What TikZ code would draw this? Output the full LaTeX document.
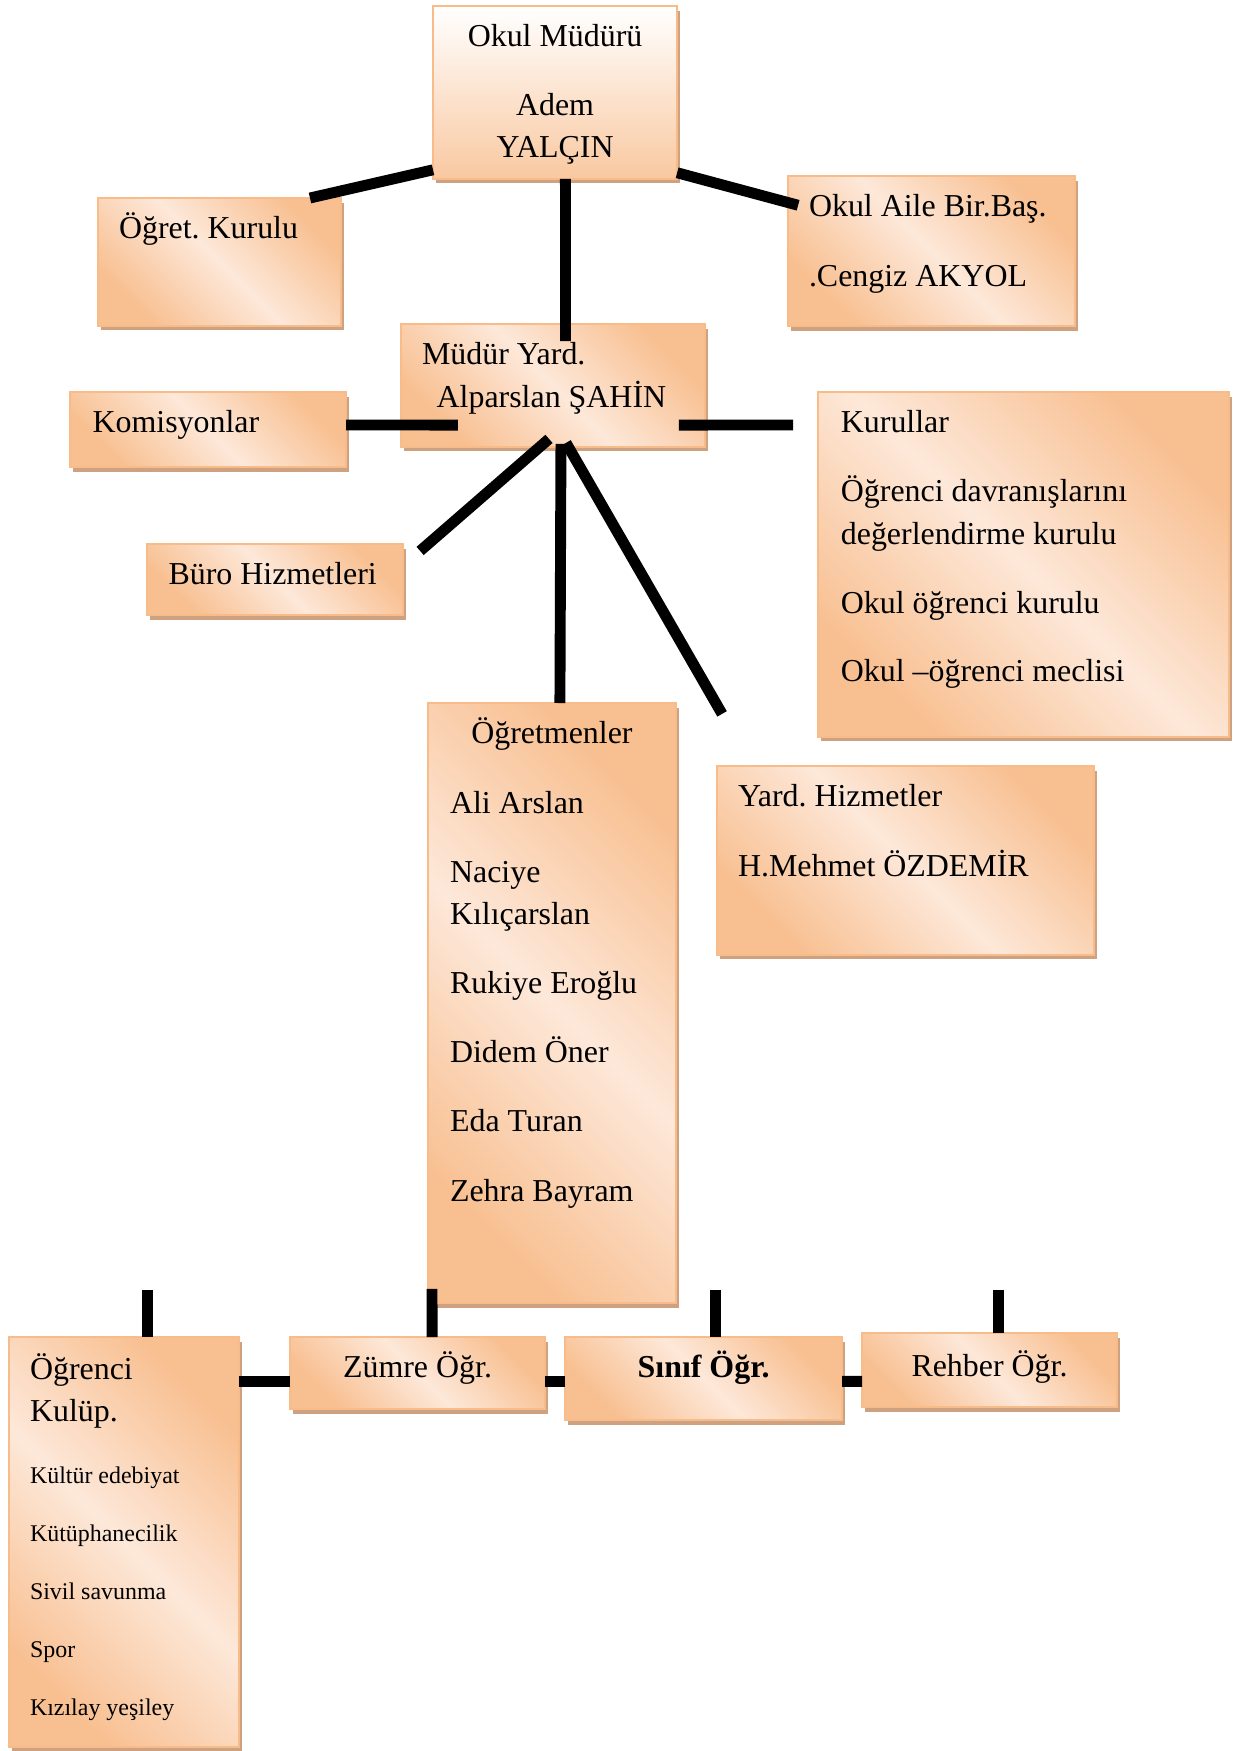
\documentclass[tikz,border=0pt]{standalone}
\usepackage{fontspec}
\setmainfont{Liberation Serif}
\usetikzlibrary{shadows}

\definecolor{peachdark}{HTML}{F8BF90}
\definecolor{peachlight}{HTML}{FDE8D9}
\definecolor{peachedge}{HTML}{F7BC89}
\definecolor{boxshadow}{HTML}{CEA280}
\pgfdeclarehorizontalshading{peachy}{100bp}{color(0bp)=(peachdark); color(25bp)=(peachdark); color(50bp)=(peachlight); color(75bp)=(peachdark); color(100bp)=(peachdark)}

\begin{document}
\begin{tikzpicture}[
            x=0.376pt, y=-0.376pt,
            box/.style={
                draw=peachedge,
                line width=0.8pt,
                shade,
                shading=peachy,
                shading angle=45,
                drop shadow={shadow xshift=1pt, shadow yshift=-1.7pt, fill=boxshadow, opacity=1},
                anchor=north west,
                align=flush left,
                inner ysep=0pt,
                outer sep=0pt,
                text height=15.4pt,
                font=\fontsize{12}{15.9}\selectfont\frenchspacing
            },
            link/.style={line width=4.1pt}
        ]
        \useasboundingbox (0,0) rectangle (1245,1751);

        \node[box, text width=84.2pt, inner xsep=3.8pt, text depth=49.6pt, align=flush center, top color=white, bottom color=peachdark!85!white, shading angle=0] (mudur) at (433,6) {Okul Müdürü\\[9.7pt]Adem\\YALÇIN};
        \node[box, text width=75.6pt, inner xsep=7.9pt, text depth=32.7pt] (ogret) at (98,198) {Öğret. Kurulu};
        \node[box, text width=92.1pt, inner xsep=7.9pt, text depth=41pt] (aile) at (788,176) {Okul Aile Bir.Baş.\\[10.1pt].Cengiz AKYOL};

        \node[box, text width=98.5pt, inner xsep=7.9pt, text depth=30.8pt] (yard) at (401,324) {Müdür Yard.\\\hspace*{5.5pt}Alparslan ŞAHİN};
        \node[box, text width=86.8pt, inner xsep=8.5pt, text depth=12.8pt] (komisyon) at (70,392) {Komisyonlar};
        \node[box, text width=137.3pt, inner xsep=8.6pt, text depth=114.3pt] (kurullar) at (818,392) {Kurullar\\[10pt]Öğrenci davranışlarını\\değerlendirme kurulu\\[10pt]Okul öğrenci kurulu\\[10pt]Okul –öğrenci meclisi};
        \node[box, text width=80.1pt, inner xsep=8.1pt, text depth=11.3pt] (buro) at (147,544) {Büro Hizmetleri};

        \node[box, text width=76.6pt, inner xsep=8.3pt, text depth=210.2pt] (ogretmen) at (428,703) {\makebox[\linewidth]{Öğretmenler}\\[10.1pt]Ali Arslan\\[10.1pt]Naciye\\Kılıçarslan\\[10.1pt]Rukiye Eroğlu\\[10.1pt]Didem Öner\\[10.1pt]Eda Turan\\[10.1pt]Zehra Bayram};
        \node[box, text width=126pt, inner xsep=7.9pt, text depth=55.6pt] (hizmet) at (717,766) {Yard. Hizmetler\\[10.2pt]H.Mehmet ÖZDEMİR};

        \node[box, text width=70.7pt, inner xsep=7.9pt, text height=15.8pt, text depth=138.4pt] (kulup) at (9,1337) {Öğrenci\\Kulüp.\\[1.5pt]\fontsize{9}{21.8}\selectfont Kültür edebiyat\\Kütüphanecilik\\Sivil savunma\\Spor\\Kızılay yeşiley\par};
        \node[box, text width=85.9pt, inner xsep=5pt, text depth=11.7pt, align=flush center] (zumre) at (290,1337) {Zümre Öğr.};
        \node[box, text width=94.2pt, inner xsep=5pt, text depth=15.8pt, align=flush center] (sinif) at (565,1337) {\textbf{Sınıf Öğr.}};
        \node[box, text width=85.9pt, inner xsep=5pt, text height=16.2pt, text depth=11.7pt, align=flush center] (rehber) at (862,1333) {Rehber Öğr.};

        \draw[link] ([yshift=3.4pt]mudur.south west) -- ([xshift=-11.7pt]ogret.north east);
        \draw[link] ([yshift=2.3pt]mudur.south east) -- ([shift={(3.8pt,-11pt)}]aile.north west);
        \draw[link] ([xshift=3.9pt]mudur.south) -- ([shift={(4.7pt,-6.4pt)}]yard.north);
        \draw[link] ([yshift=1.7pt]komisyon.east) -- ([shift={(21.4pt,-14.9pt)}]yard.west);
        \draw[link] ([shift={(-9.8pt,-14.9pt)}]yard.east) -- ([shift={(-9.4pt,-12.4pt)}]kurullar.north west);
        \draw[link] ([shift={(-1.5pt,3pt)}]yard.south) -- ([shift={(6.4pt,-2.6pt)}]buro.north east);
        \draw[link] ([shift={(3pt,1.1pt)}]yard.south) -- ([xshift=3pt]ogretmen.north);
        \draw[link] ([shift={(4.9pt,1.5pt)}]yard.south) -- ([shift={(1.9pt,19.6pt)}]hizmet.north west);

        \draw[link] ([shift={(8.9pt,17.7pt)}]kulup.north) -- ([xshift=8.9pt]kulup.north);
        \draw[link] ([shift={(1.5pt,5.3pt)}]ogretmen.south west) -- ([xshift=5.5pt]zumre.north);
        \draw[link] ([shift={(4.6pt,17.7pt)}]sinif.north) -- ([xshift=4.6pt]sinif.north);
        \draw[link] ([shift={(3.3pt,16.2pt)}]rehber.north) -- ([xshift=3.3pt]rehber.north);
        \draw[link] ([yshift=-16.7pt]kulup.north east) -- ([yshift=-16.7pt]zumre.north west);
        \draw[link] ([yshift=-16.7pt]zumre.north east) -- ([yshift=-16.7pt]sinif.north west);
        \draw[link] ([yshift=-16.7pt]sinif.north east) -- ([yshift=-18.2pt]rehber.north west);
        \end{tikzpicture}
\end{document}
